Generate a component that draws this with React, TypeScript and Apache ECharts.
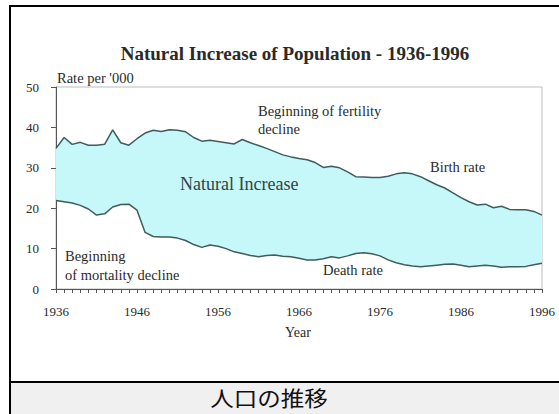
import { useEffect, useRef } from "react";
import * as echarts from "echarts";

const years = [
  "1936", "1937", "1938", "1939", "1940", "1941", "1942", "1943", "1944", "1945",
  "1946", "1947", "1948", "1949", "1950", "1951", "1952", "1953", "1954", "1955",
  "1956", "1957", "1958", "1959", "1960", "1961", "1962", "1963", "1964", "1965",
  "1966", "1967", "1968", "1969", "1970", "1971", "1972", "1973", "1974", "1975",
  "1976", "1977", "1978", "1979", "1980", "1981", "1982", "1983", "1984", "1985",
  "1986", "1987", "1988", "1989", "1990", "1991", "1992", "1993", "1994", "1995",
  "1996",
];

const birthRate = [
  34.8, 37.5, 35.8, 36.3, 35.6, 35.6, 35.8, 39.4, 36.2, 35.6,
  37.2, 38.6, 39.3, 39.0, 39.4, 39.3, 38.9, 37.5, 36.6, 36.8,
  36.5, 36.2, 35.9, 37.0, 36.2, 35.5, 34.8, 34.0, 33.2, 32.7,
  32.3, 32.0, 31.3, 30.1, 30.4, 30.0, 29.0, 27.8, 27.7, 27.6,
  27.6, 27.9, 28.5, 28.8, 28.5, 27.8, 26.8, 25.8, 25.0, 23.8,
  22.6, 21.6, 20.8, 21.0, 20.1, 20.5, 19.7, 19.6, 19.6, 19.2,
  18.3,
];

const deathRate = [
  21.9, 21.6, 21.3, 20.7, 19.8, 18.3, 18.6, 20.3, 20.9, 21.0,
  19.5, 14.0, 13.0, 12.9, 12.9, 12.6, 12.0, 11.0, 10.3, 10.9,
  10.6, 10.0, 9.2, 8.8, 8.3, 8.0, 8.3, 8.4, 8.1, 8.0,
  7.6, 7.2, 7.2, 7.5, 8.0, 7.7, 8.2, 8.8, 9.0, 8.7,
  8.2, 7.2, 6.5, 6.0, 5.7, 5.5, 5.7, 5.9, 6.1, 6.2,
  5.9, 5.5, 5.7, 5.9, 5.7, 5.4, 5.5, 5.5, 5.6, 6.0,
  6.4,
];

const titleText = "Natural Increase of Population - 1936-1996";
const yAxisName = "Rate per '000";
const xAxisName = "Year";
const captionText = "人口の推移";

const SERIF = "'Liberation Serif', 'DejaVu Serif', serif";
const LINE = "#3f5d5b";
const FILL = "#c6f7f9";
const TEXT = "#2a2a2a";

export default function App() {
  const ref = useRef<HTMLDivElement>(null);
  useEffect(() => {
    const chart = echarts.init(ref.current!, null, { renderer: "svg" });
    const natural = birthRate.map((b, i) => Math.round((b - deathRate[i]) * 100) / 100);
    const txt = (text: string, x: number, y: number, size: number, extra: any = {}) => ({
      type: "text",
      x,
      y,
      z: 100,
      scaleX: extra.scaleX || 1,
      style: {
        text,
        fill: extra.color || TEXT,
        font: `${extra.weight || "normal"} ${size}px ${SERIF}`,
        textAlign: extra.align || "left",
        textVerticalAlign: "middle",
      },
    });
    chart.setOption({
      animation: false,
      backgroundColor: "#ffffff",
      grid: {
        left: 56,
        right: 17,
        top: 87,
        bottom: 125,
        show: true,
        borderColor: "#bdbdbd",
        borderWidth: 1,
        backgroundColor: "transparent",
      },
      xAxis: {
        type: "category",
        data: years,
        boundaryGap: false,
        axisLine: { show: true, lineStyle: { color: "#555", width: 1 } },
        axisTick: { show: true, interval: 0, length: 4, lineStyle: { color: "#555" } },
        axisLabel: {
          interval: 9,
          color: TEXT,
          fontFamily: SERIF,
          fontSize: 13,
          margin: 16,
        },
        splitLine: { show: false },
      },
      yAxis: {
        type: "value",
        min: 0,
        max: 50,
        interval: 10,
        axisLine: { show: true, lineStyle: { color: "#555", width: 1 } },
        axisTick: { show: true, length: 5, lineStyle: { color: "#555" } },
        axisLabel: { color: TEXT, fontFamily: SERIF, fontSize: 13, margin: 17 },
        splitLine: { show: false },
      },
      series: [
        {
          name: "base",
          type: "line",
          stack: "rate",
          data: deathRate,
          symbol: "none",
          lineStyle: { width: 0, opacity: 0 },
          silent: true,
        },
        {
          name: "Natural Increase",
          type: "line",
          stack: "rate",
          data: natural,
          symbol: "none",
          lineStyle: { width: 0, opacity: 0 },
          areaStyle: { color: FILL, opacity: 1 },
          silent: true,
        },
        {
          name: "Birth rate",
          type: "line",
          data: birthRate,
          symbol: "none",
          lineStyle: { color: LINE, width: 1.5 },
        },
        {
          name: "Death rate",
          type: "line",
          data: deathRate,
          symbol: "none",
          lineStyle: { color: LINE, width: 1.5 },
        },
      ],
      graphic: [
        { type: "rect", z: 90, shape: { x: 10, y: 382, width: 560, height: 40 }, style: { fill: "#f0f0f0" } },
        { type: "line", z: 95, shape: { x1: 10, y1: 6, x2: 570, y2: 6 }, style: { stroke: "#000", lineWidth: 2 } },
        { type: "line", z: 95, shape: { x1: 10, y1: 5, x2: 10, y2: 420 }, style: { stroke: "#000", lineWidth: 2 } },
        { type: "line", z: 95, shape: { x1: 9, y1: 382, x2: 570, y2: 382 }, style: { stroke: "#000", lineWidth: 2 } },
        txt(titleText, 295, 53, 19, { weight: "bold", align: "center" }),
        txt(yAxisName, 57, 78, 14.5),
        txt(xAxisName, 298, 332, 14, { align: "center" }),
        txt("Beginning of fertility", 258, 111, 14.5),
        txt("decline", 258, 129, 14.5),
        txt("Natural Increase", 180, 184, 18, { color: "#2c4644" }),
        txt("Birth rate", 430, 167, 14.5),
        txt("Beginning", 65, 256, 14.5),
        txt("of mortality decline", 65, 275, 14.5),
        txt("Death rate", 323, 270, 14.5),
        {
          type: "text",
          x: 269,
          y: 397,
          z: 100,
          scaleX: 1.12,
          style: {
            text: captionText,
            fill: "#111",
            font: "normal 21px 'Noto Sans CJK JP', sans-serif",
            textAlign: "center",
            textVerticalAlign: "middle",
          },
        },
      ],
    });
    return () => chart.dispose();
  }, []);
  return (
    <div
      ref={ref}
      style={{ position: "fixed", left: 0, top: 0, width: 559, height: 414, background: "#fff" }}
    />
  );
}
